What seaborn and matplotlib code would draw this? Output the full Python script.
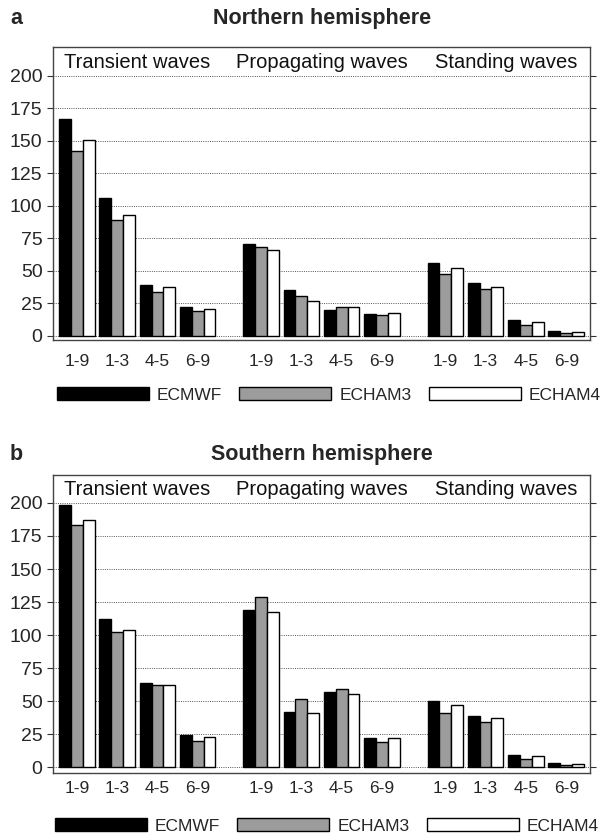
import numpy as np
import pandas as pd
import matplotlib
matplotlib.use("Agg")
import matplotlib.pyplot as plt
from matplotlib.patches import Patch
import seaborn as sns

# Wave-number bands and wave types
bands = ["1-9", "1-3", "4-5", "6-9"]
sections = ["Transient waves", "Propagating waves", "Standing waves"]
models = ["ECMWF", "ECHAM3", "ECHAM4"]

# Northern hemisphere (band order repeated for each wave type)
nh_ecmwf = [167, 106, 39.5, 22, 71, 35, 20, 17, 56.5, 40.5, 12, 4]
nh_echam3 = [142, 89, 34, 19, 68.5, 31, 22, 16, 48, 36.5, 8.5, 2.5]
nh_echam4 = [151, 93, 38, 21, 66.5, 27, 22, 18, 52, 38, 10.5, 3]

# Southern hemisphere
sh_ecmwf = [198.5, 112, 64, 24, 119, 41.5, 57, 22, 50, 39, 9.5, 3]
sh_echam3 = [183, 102.5, 62.5, 19.5, 128.5, 51.5, 59, 19, 41, 34.5, 6, 1.5]
sh_echam4 = [187, 104, 62, 23, 117.5, 41, 55.5, 22, 47, 37, 8.5, 2]

yticks = [0, 25, 50, 75, 100, 125, 150, 175, 200]

colors = ["black", "#9c9c9c", "white"]
SECTION_STEP = 4.57  # spacing between wave-type blocks, in band units

sns.set_style("white")
plt.rcParams["font.family"] = ["Liberation Sans", "DejaVu Sans"]


def positions():
    return [s * SECTION_STEP + b for s in range(len(sections)) for b in range(len(bands))]


def make_frame(series):
    pos = positions()
    rows = []
    for model, vals in zip(models, series):
        for p, v in zip(pos, vals):
            rows.append({"pos": p, "value": v, "model": model})
    return pd.DataFrame(rows)


fig = plt.figure(figsize=(6.04, 8.38), dpi=100)
W, H = 604.0, 838.0


def axes_px(left, top, right, bottom):
    return fig.add_axes([left / W, 1 - bottom / H, (right - left) / W, (bottom - top) / H])


ax_n = axes_px(53, 47, 590, 340)
ax_s = axes_px(53, 475, 590, 773)


def draw_panel(ax, series, ylim, xlab_pad):
    df = make_frame(series)
    sns.barplot(data=df, x="pos", y="value", hue="model", hue_order=models,
                native_scale=True, width=0.88, palette=colors, saturation=1,
                edgecolor="black", linewidth=1.0, errorbar=None, legend=False,
                ax=ax)
    pos = positions()
    ax.set_xlim(-0.59, pos[-1] + 0.59)
    ax.set_ylim(*ylim)
    ax.set_yticks(yticks)
    ax.set_yticklabels([str(t) for t in yticks], fontsize=14)
    ax.set_xticks(pos)
    ax.set_xticklabels(bands * len(sections), fontsize=12.5)
    ax.set_xlabel("")
    ax.set_ylabel("")
    ax.tick_params(axis="x", length=0, pad=xlab_pad)
    ax.tick_params(axis="y", direction="out", length=4.5, width=0.8,
                   left=True, right=True, labelright=False, pad=3, color="#333333")
    ax.yaxis.grid(True, linestyle=(0, (1, 1.3)), color="#555555", linewidth=0.7)
    ax.xaxis.grid(False)
    ax.set_axisbelow(True)
    for sp in ax.spines.values():
        sp.set_visible(True)
        sp.set_color("#444444")
        sp.set_linewidth(1.0)
    for s, name in enumerate(sections):
        ax.text(s * SECTION_STEP + 1.5, 210, name, ha="center", va="center",
                fontsize=14.5, color="#111111")


draw_panel(ax_n, [nh_ecmwf, nh_echam3, nh_echam4], (-3.1, 222.3), 10)
draw_panel(ax_s, [sh_ecmwf, sh_echam3, sh_echam4], (-4.5, 221.2), 6)

# Panel titles and letters
fig.text(322 / W, 1 - 24 / H, "Northern hemisphere", ha="center", va="baseline",
         fontsize=15.5, fontweight="bold")
fig.text(10 / W, 1 - 24 / H, "a", ha="left", va="baseline",
         fontsize=15.5, fontweight="bold")
fig.text(322 / W, 1 - 460 / H, "Southern hemisphere", ha="center", va="baseline",
         fontsize=15.5, fontweight="bold")
fig.text(10 / W, 1 - 460 / H, "b", ha="left", va="baseline",
         fontsize=15.5, fontweight="bold")

# Legends beneath each panel
handles = [Patch(facecolor=c, edgecolor="black", linewidth=1.0) for c in colors]
for ycen, xleft in [(395, 57), (826, 55)]:
    fig.legend(handles, models, loc="center left",
               bbox_to_anchor=(xleft / W, 1 - ycen / H), ncol=3, frameon=False,
               fontsize=12.5, handlelength=5.3, handleheight=0.7,
               handletextpad=0.45, columnspacing=1.0, borderpad=0,
               borderaxespad=0)

fig.savefig("out.png", dpi=100)
